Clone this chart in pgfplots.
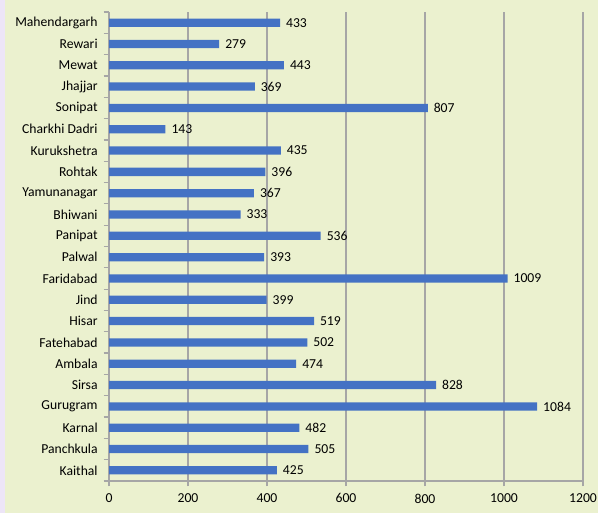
\documentclass[border=0pt]{standalone}
\usepackage{pgfplots}
\pgfplotsset{compat=1.18}
\usepackage{fontspec}
\setmainfont{Carlito}
\definecolor{bgc}{HTML}{EBF1CF}
\definecolor{lav}{HTML}{EDE5F7}
\definecolor{barc}{HTML}{4472C4}
\definecolor{gridc}{HTML}{A6A6A6}
\begin{document}
\begin{tikzpicture}
\fill[bgc] (0pt,0pt) rectangle (448.5pt,384.75pt);
\fill[lav] (0pt,0pt) rectangle (3.75pt,384.75pt);
\path[use as bounding box] (0pt,0pt) rectangle (448.5pt,384.75pt);
\begin{axis}[
  at={(81.75pt,24pt)}, anchor=south west,
  scale only axis, width=355.5pt, height=351.75pt,
  xbar, bar width=6.2pt,
  xmin=0, xmax=1200, ymin=-0.5, ymax=21.5,
  xtick={0,200,...,1200},
  ytick={-0.5,0.5,...,21.5}, yticklabels={},
  extra y ticks={0,1,...,21},
  extra y tick labels={Kaithal,Panchkula,Karnal,Gurugram,Sirsa,Ambala,Fatehabad,Hisar,Jind,Faridabad,Palwal,Panipat,Bhiwani,Yamunanagar,Rohtak,Kurukshetra,Charkhi Dadri,Sonipat,Jhajjar,Mewat,Rewari,Mahendargarh},
  extra y tick style={tick style={draw=none}, yticklabel style={xshift=-1pt}},
  axis lines=left, axis line style={-, draw=gridc, line width=0.9pt},
  tick align=outside, major tick length=4pt,
  tick style={draw=gridc, line width=0.9pt},
  xmajorgrids, grid style={draw=gridc, line width=1.1pt},
  /pgf/number format/1000 sep={},
  /pgf/number format/assume math mode=true,
  ticklabel style={font=\fontsize{10.25}{12}\selectfont, text=black},
  xticklabel style={yshift=-2pt},
  nodes near coords,
  nodes near coords align={horizontal},
  every node near coord/.append style={font=\fontsize{10.25}{12}\selectfont, text=black, xshift=1pt},
]
\addplot[fill=barc, draw=none] coordinates {
(425,0) (505,1) (482,2) (1084,3) (828,4) (474,5) (502,6) (519,7) (399,8) (1009,9) (393,10) (536,11) (333,12) (367,13) (396,14) (435,15) (143,16) (807,17) (369,18) (443,19) (279,20) (433,21)
};
\end{axis}
\end{tikzpicture}
\end{document}
